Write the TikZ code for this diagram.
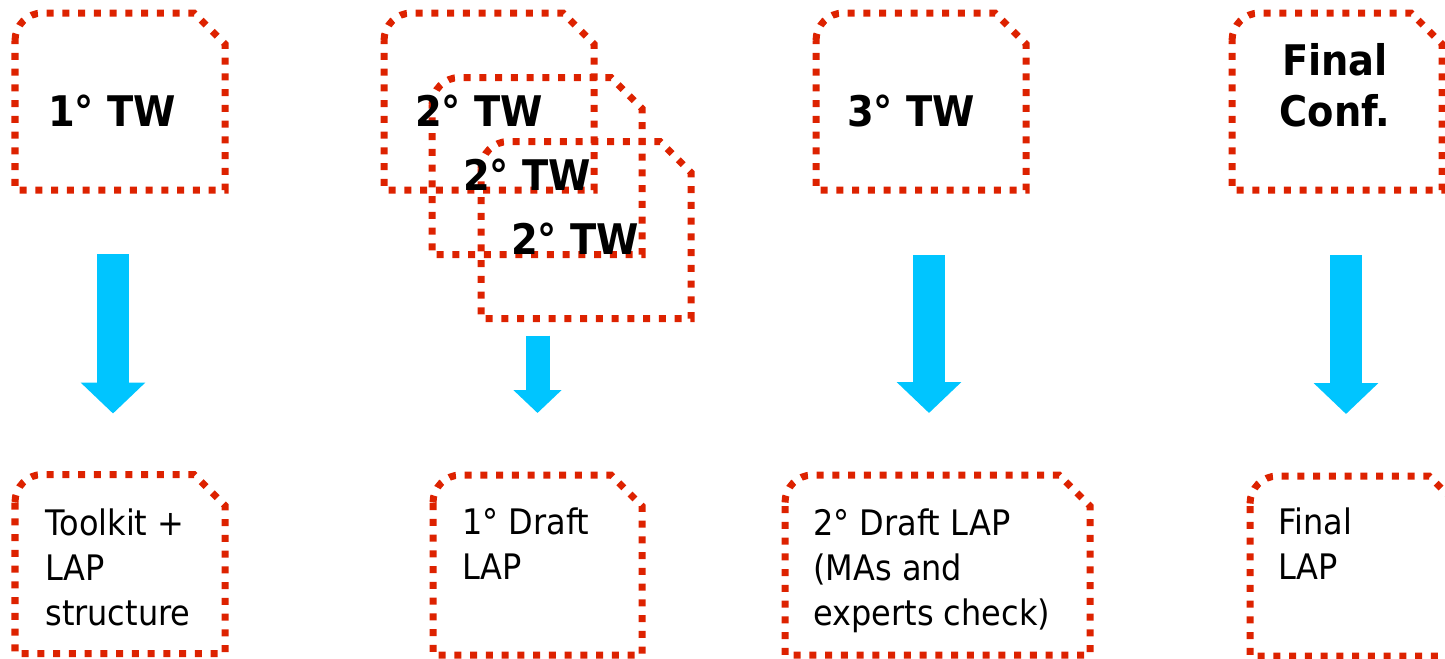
\documentclass[tikz,border=0pt]{standalone}
\usepackage{fontspec}
\setmainfont{DejaVu Sans}[FakeStretch=0.91]
\usepackage{tikz}
\usetikzlibrary{calc}
\usetikzlibrary{arrows.meta}
\definecolor{dotred}{RGB}{221,34,0}
\definecolor{flowcyan}{RGB}{0,197,255}
\tikzset{box/.style={inner sep=0pt,outer sep=0pt,minimum width=4.2cm,minimum height=3.54cm}}
\tikzset{frame/.style={dotred,line width=0.14cm,dash pattern=on 0.14cm off 0.175cm}}
\tikzset{flow/.style={flowcyan,line width=0.64cm,-{Triangle[width=1.26cm,length=0.62cm]}}}
\tikzset{bold/.style={inner sep=0pt,anchor=base,align=center,font=\fontsize{24}{29}\selectfont\bfseries}}
\tikzset{plain/.style={inner sep=0pt,anchor=base west,align=left,font=\fontsize{20}{25.5}\selectfont}}
\newcommand{\tabframe}[1]{\draw[frame] ($(#1.north west)+(0,-0.55)$) arc[start angle=180,end angle=90,radius=0.55] -- ($(#1.north east)+(-0.62,0)$) -- ($(#1.north east)+(0,-0.62)$) -- (#1.south east) -- (#1.south west) -- cycle;}
\begin{document}
\begin{tikzpicture}
                    \useasboundingbox (0,0) rectangle (28.9,-13.16);
                    \node[box] (tw1) at (2.40,-2.03) {};
                    \node[box] (tw2a) at (9.78,-2.03) {};
                    \node[box] (tw2b) at (10.74,-3.32) {};
                    \node[box] (tw2c) at (11.72,-4.60) {};
                    \node[box] (tw3) at (18.42,-2.03) {};
                    \node[box] (conf) at (26.74,-2.03) {};
                    \node[box, minimum height=3.58cm] (d1) at (2.40,-11.28) {};
                    \node[box, minimum width=4.18cm, minimum height=3.6cm] (d2) at (10.75,-11.30) {};
                    \node[box, minimum width=6.1cm, minimum height=3.6cm] (d3) at (18.75,-11.30) {};
                    \node[box, minimum height=3.6cm] (d4) at (27.10,-11.32) {};

                    \foreach \n in {tw1,tw2a,tw2b,tw2c,tw3,conf,d1,d2,d3,d4}
                        \tabframe{\n};

                    \node[bold] (t1) at (2.24,-2.52) {1° TW};
                    \node[bold] (t2a) at (9.58,-2.52) {2° TW};
                    \node[bold] (t2b) at (10.54,-3.81) {2° TW};
                    \node[bold] (t2c) at (11.50,-5.08) {2° TW};
                    \node[bold] (t3) at (18.22,-2.52) {3° TW};
                    \node[bold] (tc) at (26.70,-2.52) {Final\\Conf.};

                    \node[plain] (b1) at (0.90,-12.50) {Toolkit +\\LAP\\structure};
                    \node[plain] (b2) at (9.24,-11.58) {1° Draft\\LAP};
                    \node[plain] (b3) at (16.26,-12.50) {2° Draft LAP\\(MAs and\\experts check)};
                    \node[plain] (b4) at (25.56,-11.58) {Final\\LAP};

                    \draw[flow, shorten <=1.28cm, shorten >=1.22cm] ([xshift=-0.14cm]tw1.south) -- ([xshift=-0.14cm]tw1.south |- d1.north);
                    \draw[flow, line width=0.48cm, -{Triangle[width=0.94cm,length=0.46cm]}, shorten <=0.34cm, shorten >=1.24cm] (tw2c.south -| d2.north) -- (d2.north);
                    \draw[flow, shorten <=1.30cm, shorten >=1.24cm] ([xshift=0.16cm]tw3.south) -- ([xshift=0.16cm]tw3.south |- d3.north);
                    \draw[flow, shorten <=1.30cm, shorten >=1.24cm] ([xshift=0.18cm]conf.south) -- ([xshift=0.18cm]conf.south |- d4.north);
                \end{tikzpicture}
\end{document}
